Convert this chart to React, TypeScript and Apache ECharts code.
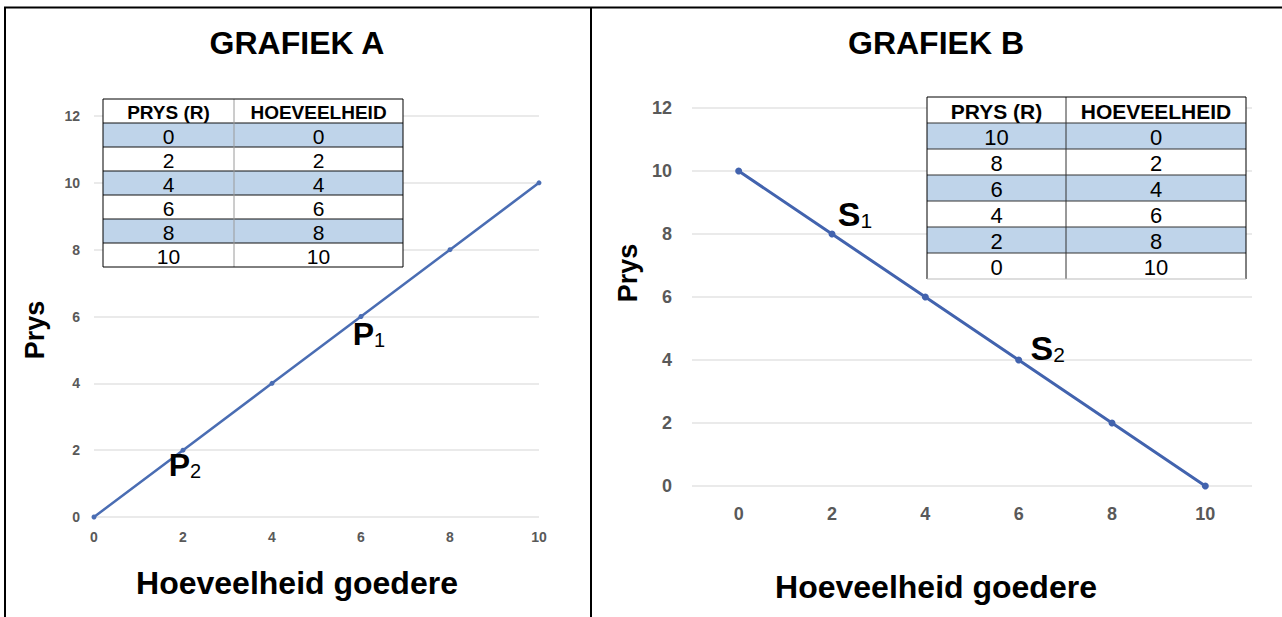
import React, { useEffect, useRef } from "react";
import * as echarts from "echarts";

// ---------- data ----------
const titleA = "GRAFIEK A";
const titleB = "GRAFIEK B";
const xAxisName = "Hoeveelheid goedere";
const yAxisName = "Prys";
const tableHeaders = ["PRYS (R)", "HOEVEELHEID"];

const priceA = [0, 2, 4, 6, 8, 10];
const qtyA = [0, 2, 4, 6, 8, 10];
const priceB = [10, 8, 6, 4, 2, 0];
const qtyB = [0, 2, 4, 6, 8, 10];

const xCategoriesB = ["0", "2", "4", "6", "8", "10"];

// point annotations: [index in series, main letter, subscript]
const labelsA: [number, string, string][] = [
  [3, "P", "1"],
  [1, "P", "2"],
];
const labelsB: [number, string, string][] = [
  [1, "S", "1"],
  [3, "S", "2"],
];

// ---------- styles / layout ----------
const FONT = "'Liberation Sans', Arial, sans-serif";
const BLUE_ROW = "#bfd4ea";
const LINE_A = "#4a6db3";
const LINE_B = "#4263ae";
const AXIS_TXT = "#595959";
const GRID_CLR = "#e3e3e3";

const labelOffsetsA: Record<number, [number, number]> = { 3: [8, 17], 1: [2, 15] };
const labelOffsetsB: Record<number, [number, number]> = { 1: [23, -20], 3: [29, -12] };

function richLabel(main: string, sub: string, offset: [number, number], size: number) {
  const subSize = Math.round(size * 0.62);
  return {
    show: true,
    position: "inside",
    offset,
    formatter: `{m|${main}}{s|${sub}}`,
    rich: {
      m: { fontFamily: FONT, fontSize: size, fontWeight: "bold", color: "#000", lineHeight: size, verticalAlign: "bottom" },
      s: { fontFamily: FONT, fontSize: subSize, fontWeight: "normal", color: "#000", lineHeight: subSize, verticalAlign: "bottom" },
    },
  };
}

function buildTable(
  left: number,
  top: number,
  colW: [number, number],
  rowH: number,
  col1: number[],
  col2: number[],
  headSize: number,
  cellSize: number,
  opts: { hLine: string; divider: string; bottom: string }
) {
  const els: any[] = [];
  const totalW = colW[0] + colW[1];
  const nRows = col1.length + 1;
  for (let r = 0; r < nRows; r++) {
    els.push({
      type: "rect",
      shape: { x: left, y: top + r * rowH, width: totalW, height: rowH },
      style: { fill: r > 0 && (r - 1) % 2 === 0 ? BLUE_ROW : "#ffffff" },
      z: 10,
    });
  }
  for (let r = 1; r < nRows; r++) {
    els.push({
      type: "line",
      shape: { x1: left, y1: top + r * rowH, x2: left + totalW, y2: top + r * rowH },
      style: { stroke: opts.hLine, lineWidth: 1 },
      z: 11,
    });
  }
  els.push({
    type: "line",
    shape: { x1: left + colW[0], y1: top, x2: left + colW[0], y2: top + nRows * rowH },
    style: { stroke: opts.divider, lineWidth: 1 },
    z: 11,
  });
  els.push({
    type: "polyline",
    shape: {
      points: [
        [left, top + nRows * rowH],
        [left, top],
        [left + totalW, top],
        [left + totalW, top + nRows * rowH],
      ],
    },
    style: { stroke: "#000", lineWidth: 1, fill: null },
    z: 12,
  });
  els.push({
    type: "line",
    shape: { x1: left, y1: top + nRows * rowH, x2: left + totalW, y2: top + nRows * rowH },
    style: { stroke: opts.bottom, lineWidth: 1 },
    z: 12,
  });
  const cx = [left + colW[0] / 2, left + colW[0] + colW[1] / 2];
  tableHeaders.forEach((h, c) => {
    els.push({
      type: "text",
      x: cx[c],
      y: top + rowH / 2 + 1,
      style: {
        text: h,
        font: `bold ${headSize}px ${FONT}`,
        fill: "#000",
        align: "center",
        verticalAlign: "middle",
        textAlign: "center",
        textVerticalAlign: "middle",
      },
      z: 13,
    });
  });
  for (let r = 0; r < col1.length; r++) {
    [col1[r], col2[r]].forEach((v, c) => {
      els.push({
        type: "text",
        x: cx[c],
        y: top + (r + 1) * rowH + rowH / 2 + 1,
        style: {
          text: String(v),
          font: `${cellSize}px ${FONT}`,
          fill: "#000",
          align: "center",
          verticalAlign: "middle",
          textAlign: "center",
          textVerticalAlign: "middle",
        },
        z: 13,
      });
    });
  }
  return els;
}

function textEl(text: string, x: number, y: number, size: number, rotation = 0) {
  return {
    type: "text",
    x,
    y,
    rotation,
    style: {
      text,
      font: `bold ${size}px ${FONT}`,
      fill: "#000",
      align: "center",
      verticalAlign: "middle",
      textAlign: "center",
      textVerticalAlign: "middle",
    },
    z: 20,
  };
}

export default function App() {
  const ref = useRef<HTMLDivElement>(null);

  useEffect(() => {
    if (!ref.current) return;
    const chart = echarts.init(ref.current, null, { renderer: "svg" });

    const dataA = qtyA.map((q, i) => {
      const lab = labelsA.find((l) => l[0] === i);
      const item: any = { value: [q, priceA[i]] };
      if (lab) item.label = richLabel(lab[1], lab[2], labelOffsetsA[i], 32);
      return item;
    });
    const dataB = priceB.map((p, i) => {
      const lab = labelsB.find((l) => l[0] === i);
      const item: any = { value: p };
      if (lab) item.label = richLabel(lab[1], lab[2], labelOffsetsB[i], 34);
      return item;
    });

    const graphics: any[] = [
      { type: "line", shape: { x1: 4, y1: 7.5, x2: 1282, y2: 7.5 }, style: { stroke: "#000", lineWidth: 2 }, z: 30 },
      { type: "line", shape: { x1: 5, y1: 7, x2: 5, y2: 617 }, style: { stroke: "#000", lineWidth: 2 }, z: 30 },
      { type: "line", shape: { x1: 591, y1: 7, x2: 591, y2: 617 }, style: { stroke: "#000", lineWidth: 2 }, z: 30 },
      textEl(titleA, 297, 43, 32),
      textEl(titleB, 936, 43, 32),
      textEl(xAxisName, 297, 583, 32),
      textEl(xAxisName, 936, 587, 32),
      textEl(yAxisName, 35, 330, 27, Math.PI / 2),
      textEl(yAxisName, 628, 273, 27, Math.PI / 2),
      ...buildTable(103, 99, [131, 169], 24, priceA, qtyA, 19, 21, {
        hLine: "#111",
        divider: "#9a9a9a",
        bottom: "#000",
      }),
      ...buildTable(927, 97, [139, 180], 26, priceB, qtyB, 21, 22, {
        hLine: "#333",
        divider: "#333",
        bottom: "#bbbbbb",
      }),
    ];

    chart.setOption({
      animation: false,
      backgroundColor: "#ffffff",
      textStyle: { fontFamily: FONT },
      grid: [
        { left: 94, top: 116, width: 445, height: 401 },
        { left: 692, top: 108, width: 560, height: 378 },
      ],
      xAxis: [
        {
          type: "value",
          gridIndex: 0,
          min: 0,
          max: 10,
          interval: 2,
          axisLine: { show: false },
          axisTick: { show: false },
          splitLine: { show: false },
          axisLabel: { color: AXIS_TXT, fontWeight: "bold", fontSize: 14, margin: 13, fontFamily: FONT },
        },
        {
          type: "category",
          gridIndex: 1,
          data: xCategoriesB,
          boundaryGap: true,
          axisLine: { show: false },
          axisTick: { show: false },
          splitLine: { show: false },
          axisLabel: { color: AXIS_TXT, fontWeight: "bold", fontSize: 18, margin: 19, fontFamily: FONT },
        },
      ],
      yAxis: [
        {
          type: "value",
          gridIndex: 0,
          min: 0,
          max: 12,
          interval: 2,
          axisLine: { show: false },
          axisTick: { show: false },
          splitLine: { show: true, lineStyle: { color: GRID_CLR, width: 1.5 } },
          axisLabel: { color: AXIS_TXT, fontWeight: "bold", fontSize: 14, margin: 14, fontFamily: FONT },
        },
        {
          type: "value",
          gridIndex: 1,
          min: 0,
          max: 12,
          interval: 2,
          axisLine: { show: false },
          axisTick: { show: false },
          splitLine: { show: true, lineStyle: { color: GRID_CLR, width: 1.5 } },
          axisLabel: { color: AXIS_TXT, fontWeight: "bold", fontSize: 18, margin: 20, fontFamily: FONT },
        },
      ],
      series: [
        {
          type: "line",
          xAxisIndex: 0,
          yAxisIndex: 0,
          data: dataA,
          symbol: "circle",
          symbolSize: 5,
          lineStyle: { color: LINE_A, width: 2.5 },
          itemStyle: { color: LINE_A },
          z: 5,
        },
        {
          type: "line",
          xAxisIndex: 1,
          yAxisIndex: 1,
          data: dataB,
          symbol: "circle",
          symbolSize: 7,
          lineStyle: { color: LINE_B, width: 3 },
          itemStyle: { color: LINE_B },
          z: 5,
        },
      ],
      graphic: graphics,
    });

    return () => chart.dispose();
  }, []);

  return (
    <div
      ref={ref}
      style={{ position: "fixed", left: 0, top: 0, width: 1282, height: 617, background: "#fff" }}
    />
  );
}
